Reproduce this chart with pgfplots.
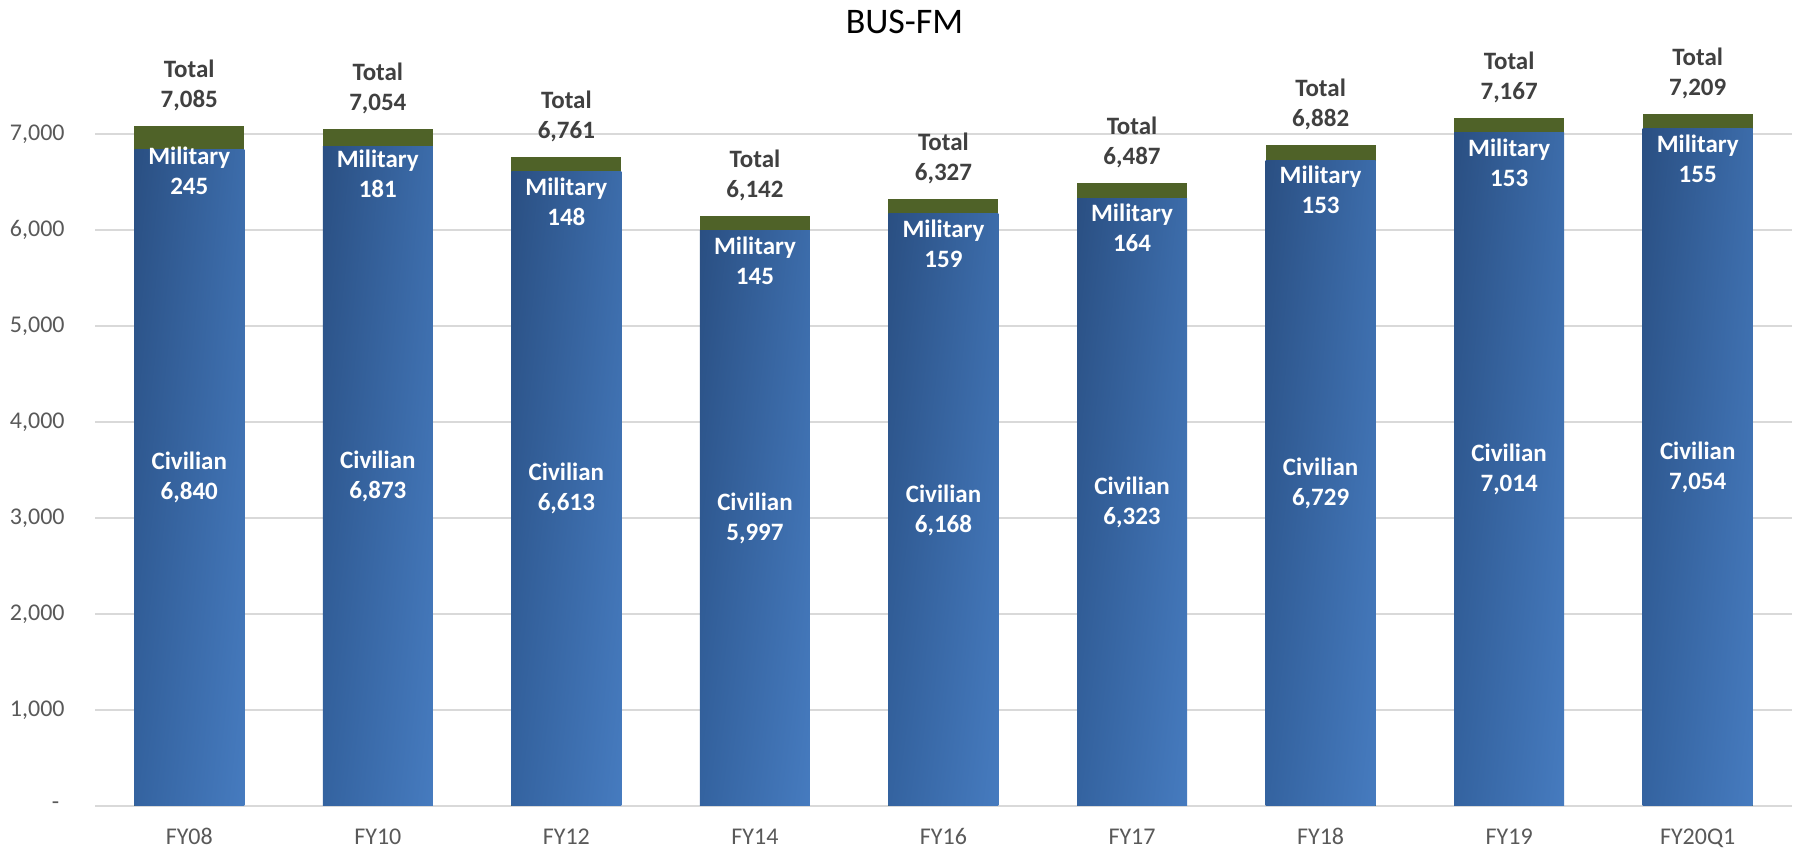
\documentclass[border=0pt]{standalone}
\usepackage{pgfplots}
\usepackage{pgfplotstable}
\pgfplotsset{compat=1.18}
\usetikzlibrary{shadings}
\usepackage{fontspec}
\setmainfont{Carlito}
\definecolor{civUL}{HTML}{2A4F82}
\definecolor{civUR}{HTML}{3C6CAA}
\definecolor{civLL}{HTML}{3463A0}
\definecolor{civLR}{HTML}{467BBF}
\definecolor{mil}{HTML}{4F6228}
\definecolor{tickgray}{HTML}{595959}
\definecolor{gridgray}{HTML}{D9D9D9}
\definecolor{totgray}{HTML}{404040}
\pgfkeys{/pgf/number format/.cd,1000 sep={,},assume math mode=true}

\pgfplotstableread{
x lab civ mil tot
0 FY08   6840 245 7085
1 FY10   6873 181 7054
2 FY12   6613 148 6761
3 FY14   5997 145 6142
4 FY16   6168 159 6327
5 FY17   6323 164 6487
6 FY18   6729 153 6882
7 FY19   7014 153 7167
8 FY20Q1 7054 155 7209
}\datatable

\pgfplotstableread{
v lab
0 {-\ \ }
1000 {1,000}
2000 {2,000}
3000 {3,000}
4000 {4,000}
5000 {5,000}
6000 {6,000}
7000 {7,000}
}\ytab

\pgfplotsset{
  base/.style={
    scale only axis,
    width=848.5pt, height=384pt,
    xmin=-0.5, xmax=8.5, ymin=0, ymax=8000,
    at={(0,0)}, anchor=south west,
    axis lines=none, clip=false,
    xtick=\empty, ytick=\empty,
  }
}

\begin{document}
\begin{tikzpicture}
\begin{axis}[base,
  title={\fontsize{18}{20}\selectfont BUS-FM},
  every axis title shift=0pt,
  title style={at={(0.477,1)}, anchor=center, yshift=8pt, inner sep=0pt},
]
% gridlines
\pgfplotsinvokeforeach{0,1000,...,7000}{
  \draw[gridgray, line width=0.9pt] (axis cs:-0.5,#1) -- (axis cs:8.5,#1);
}
% total bars (olive) behind, civilian bars (shaded) in front, one per category
\pgfplotsinvokeforeach{0,...,8}{
  \addplot[ybar, bar width=55pt, bar shift=0pt, draw=none, fill=mil,
    restrict x to domain=#1:#1] table[x=x, y=tot]{\datatable};
  \addplot[ybar, bar width=55pt, bar shift=0pt, draw=none,
    upper left=civUL, upper right=civUR, lower left=civLL, lower right=civLR,
    restrict x to domain=#1:#1] table[x=x, y=civ]{\datatable};
}
\end{axis}

\begin{axis}[base]
% x tick labels
\addplot[draw=none, mark=none, point meta=explicit symbolic,
  nodes near coords={\pgfplotspointmeta},
  every node near coord/.append style={anchor=base, font=\fontsize{12}{14}\selectfont, text=tickgray, yshift=-19.5pt}]
  table[x=x, y expr=0, meta=lab]{\datatable};
% civilian labels
\addplot[draw=none, mark=none, point meta=explicit,
  nodes near coords={Civilian\\\pgfmathprintnumber{\pgfplotspointmeta}},
  every node near coord/.append style={anchor=center, align=center, text=white,
    font=\bfseries\fontsize{12.5}{15}\selectfont}]
  table[x=x, y expr=\thisrow{civ}/2, meta=civ]{\datatable};
% military labels
\addplot[draw=none, mark=none, point meta=explicit,
  nodes near coords={Military\\\pgfmathprintnumber{\pgfplotspointmeta}},
  every node near coord/.append style={anchor=north, align=center, text=white,
    font=\bfseries\fontsize{12.5}{15}\selectfont, yshift=-7pt}]
  table[x=x, y=tot, meta=mil]{\datatable};
% total labels
\addplot[draw=none, mark=none, point meta=explicit,
  nodes near coords={Total\\\pgfmathprintnumber{\pgfplotspointmeta}},
  every node near coord/.append style={anchor=south, align=center, text=totgray,
    font=\bfseries\fontsize{12.5}{15}\selectfont, yshift=4pt}]
  table[x=x, y=tot, meta=tot]{\datatable};
% y tick labels
\addplot[draw=none, mark=none, point meta=explicit symbolic,
  nodes near coords={\pgfplotspointmeta},
  every node near coord/.append style={anchor=east, font=\fontsize{12}{14}\selectfont, text=tickgray, inner sep=0pt, xshift=-15pt}]
  table[x expr=-0.5, y=v, meta=lab]{\ytab};
\end{axis}

\pgfresetboundingbox
\path[use as bounding box] (-47.5pt,-22pt) rectangle (850pt,403pt);
\end{tikzpicture}
\end{document}
